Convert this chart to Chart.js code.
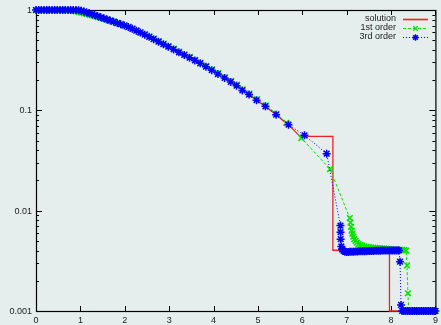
<!DOCTYPE html>
<html>
<head>
<meta charset="utf-8">
<script src="https://cdn.jsdelivr.net/npm/chart.js@4.4.1/dist/chart.umd.min.js"></script>
<style>
  html, body { margin: 0; padding: 0; background: #e5eded; }
  #wrap { width: 441px; height: 325px; }
</style>
</head>
<body>
<div id="wrap"><canvas id="shockChart" width="441" height="325"></canvas></div>
<script>
// values (log scale)
const solutionX = [0, 0.93, 1.2, 1.5, 1.8, 2.1, 2.4, 2.7, 3.0, 3.3, 3.6, 3.9, 4.2, 4.5, 4.8, 5.1, 5.4, 5.7, 5.95,
  6.69, 6.69, 7.965, 7.965, 9];
const solutionY = [1, 1, 0.91, 0.82, 0.75, 0.671, 0.582, 0.499, 0.427, 0.364, 0.310, 0.260, 0.216, 0.178, 0.1435, 0.1148, 0.0912, 0.0708, 0.055,
  0.055, 0.00403, 0.00403, 0.001, 0.001];

const firstX = [0, 0.06, 0.12, 0.18, 0.24, 0.30, 0.36, 0.42, 0.48, 0.54, 0.60,
  0.66, 0.72, 0.78, 0.84, 0.90, 0.96, 1.02, 1.08, 1.14,
  1.21, 1.27, 1.33, 1.40, 1.47, 1.54, 1.61, 1.68, 1.76, 1.84,
  1.92, 2.00, 2.09, 2.18, 2.27, 2.36, 2.46, 2.56, 2.66, 2.77,
  2.88, 2.99, 3.11, 3.23, 3.35, 3.47, 3.59, 3.71, 3.84, 3.97,
  4.11, 4.26, 4.40, 4.53, 4.66, 4.81, 4.98, 5.18, 5.42,
  5.64, 5.978, 6.625, 7.071,
  7.085, 7.10, 7.115, 7.13, 7.15, 7.17, 7.20, 7.23, 7.27, 7.31, 7.35, 7.40, 7.45, 7.50, 7.55,
  7.60, 7.65, 7.70, 7.75, 7.80, 7.85, 7.90, 7.95, 8.00, 8.05, 8.10, 8.15, 8.20, 8.25, 8.30, 8.34,
  8.36, 8.38, 8.40,
  8.44, 8.48, 8.52, 8.56, 8.60, 8.64, 8.68, 8.72, 8.76, 8.80, 8.84, 8.88, 8.92, 8.96, 9.0];
const firstY = [1, 1, 1, 1, 1, 1, 1, 1, 1, 1, 1,
  0.997, 0.993, 0.987, 0.978, 0.967, 0.954, 0.940, 0.925, 0.911,
  0.896, 0.882, 0.867, 0.849, 0.831, 0.813, 0.796, 0.782, 0.765, 0.745,
  0.725, 0.705, 0.682, 0.656, 0.629, 0.603, 0.575, 0.547, 0.519, 0.490,
  0.463, 0.437, 0.411, 0.385, 0.362, 0.340, 0.319, 0.299, 0.277, 0.256,
  0.235, 0.214, 0.196, 0.180, 0.162, 0.147, 0.129, 0.112, 0.0924,
  0.0749, 0.053, 0.026, 0.00844,
  0.0076, 0.0069, 0.0063, 0.0059, 0.0055, 0.0052, 0.0050, 0.0048, 0.00465, 0.00455, 0.00447, 0.0044, 0.00436, 0.00433, 0.0043,
  0.00428, 0.00426, 0.00424, 0.00422, 0.0042, 0.00418, 0.00416, 0.00415, 0.00413, 0.00412, 0.0041, 0.00409, 0.00408, 0.00406, 0.00405, 0.0040,
  0.00285, 0.0015, 0.001,
  0.001, 0.001, 0.001, 0.001, 0.001, 0.001, 0.001, 0.001, 0.001, 0.001, 0.001, 0.001, 0.001, 0.001, 0.001];

const thirdX = [0, 0.06, 0.12, 0.18, 0.24, 0.30, 0.36, 0.42, 0.48, 0.54, 0.60, 0.66, 0.72, 0.78, 0.84, 0.90,
  0.96, 1.02, 1.08, 1.14, 1.20, 1.26, 1.32, 1.39, 1.46, 1.53,
  1.60, 1.67, 1.75, 1.83, 1.91, 1.99, 2.08, 2.17, 2.26, 2.35,
  2.45, 2.55, 2.65, 2.76, 2.87, 2.98, 3.10, 3.22, 3.34, 3.46,
  3.58, 3.70, 3.83, 3.96, 4.10, 4.25, 4.39, 4.52, 4.65, 4.80,
  4.97, 5.17, 5.41, 5.69, 6.05, 6.55,
  6.86, 6.862, 6.865, 6.88,
  6.90, 6.93, 6.96,
  7.00, 7.04, 7.08, 7.12, 7.16, 7.20, 7.24, 7.28, 7.32, 7.36,
  7.40, 7.44, 7.48, 7.52, 7.56, 7.60, 7.64, 7.68, 7.72, 7.76,
  7.80, 7.84, 7.88, 7.92, 7.96, 8.00, 8.04, 8.08, 8.12, 8.16,
  8.18,
  8.203, 8.225,
  8.25, 8.29, 8.33, 8.37, 8.41, 8.45, 8.49, 8.53, 8.57, 8.61,
  8.65, 8.69, 8.73, 8.77, 8.81, 8.85, 8.89, 8.93, 8.97, 9.0];
const thirdY = [1, 1, 1, 1, 1, 1, 1, 1, 1, 1, 1, 1, 1, 1, 1, 1,
  0.995, 0.984, 0.966, 0.946, 0.927, 0.908, 0.889, 0.867, 0.845, 0.826,
  0.805, 0.785, 0.764, 0.741, 0.721, 0.700, 0.676, 0.649, 0.622, 0.596,
  0.568, 0.540, 0.512, 0.483, 0.456, 0.431, 0.405, 0.379, 0.356, 0.335,
  0.314, 0.294, 0.272, 0.251, 0.230, 0.210, 0.192, 0.176, 0.158, 0.1435,
  0.126, 0.1096, 0.0906, 0.0719, 0.0564, 0.037,
  0.0071, 0.0061, 0.0052, 0.0044,
  0.0041, 0.00397, 0.0039,
  0.00388, 0.00388, 0.00389, 0.0039, 0.0039, 0.00391, 0.00392, 0.00393, 0.00393, 0.00394,
  0.00395, 0.00395, 0.00396, 0.00396, 0.00397, 0.00397, 0.00398, 0.00398, 0.00399, 0.00399,
  0.004, 0.004, 0.004, 0.00401, 0.00401, 0.00402, 0.00402, 0.00402, 0.00402, 0.00402,
  0.00401,
  0.0031, 0.00115,
  0.001, 0.001, 0.001, 0.001, 0.001, 0.001, 0.001, 0.001, 0.001, 0.001,
  0.001, 0.001, 0.001, 0.001, 0.001, 0.001, 0.001, 0.001, 0.001, 0.001];

const xTicks = [0, 1, 2, 3, 4, 5, 6, 7, 8, 9];
const yTicks = [1, 0.1, 0.01, 0.001];
const yTickLabels = ['1', '0.1', '0.01', '0.001'];
const seriesNames = ['solution', '1st order', '3rd order'];

const BG = '#e5eded';
const RED = 'rgb(238,32,32)';
const GREEN = 'rgb(0,230,0)';
const BLUE = 'rgb(0,0,245)';
const FONT = '9px "Liberation Sans", Arial, sans-serif';

function toPoints(xs, ys) {
    const n = Math.min(xs.length, ys.length);
    const pts = [];
    for (let i = 0; i < n; i++) pts.push({ x: xs[i], y: ys[i] });
    return pts;
}

function drawMarker(ctx, style, x, y, r) {
    ctx.beginPath();
    if (style === 'star') {
        ctx.moveTo(x - r, y); ctx.lineTo(x + r, y);
        ctx.moveTo(x, y - r); ctx.lineTo(x, y + r);
    }
    const d = r * 0.7071;
    ctx.moveTo(x - d, y - d); ctx.lineTo(x + d, y + d);
    ctx.moveTo(x - d, y + d); ctx.lineTo(x + d, y - d);
    ctx.stroke();
}

// gnuplot-ish frame: inward ticks on all four sides, labels, legend
const framePlugin = {
    id: 'frame',
    beforeDraw(chart) {
        const ctx = chart.ctx;
        ctx.save();
        ctx.fillStyle = BG;
        ctx.fillRect(0, 0, chart.width, chart.height);
        ctx.restore();
    },
    beforeDatasetsDraw(chart) {
        const ctx = chart.ctx;
        const a = chart.chartArea;
        const xs = chart.scales.x, ys = chart.scales.y;
        ctx.save();
        ctx.strokeStyle = '#000';
        ctx.lineWidth = 1;

        ctx.beginPath();
        // y ticks, major and minor
        yTicks.forEach(v => {
            const py = Math.round(ys.getPixelForValue(v)) + 0.5;
            ctx.moveTo(a.left, py); ctx.lineTo(a.left + 6, py);
            ctx.moveTo(a.right, py); ctx.lineTo(a.right - 6, py);
        });
        [0.001, 0.01, 0.1].forEach(d => {
            for (let m = 2; m <= 9; m++) {
                const py = Math.round(ys.getPixelForValue(d * m)) + 0.5;
                ctx.moveTo(a.left, py); ctx.lineTo(a.left + 3, py);
                ctx.moveTo(a.right, py); ctx.lineTo(a.right - 3, py);
            }
        });
        xTicks.forEach(v => {
            const px = Math.round(xs.getPixelForValue(v)) + 0.5;
            ctx.moveTo(px, a.bottom); ctx.lineTo(px, a.bottom - 5);
            ctx.moveTo(px, a.top); ctx.lineTo(px, a.top + 5);
        });
        ctx.stroke();

        ctx.lineWidth = 1.2;
        ctx.strokeRect(a.left + 0.5, a.top + 0.5, a.right - a.left, a.bottom - a.top);

        ctx.fillStyle = '#222';
        ctx.font = FONT;
        ctx.textBaseline = 'middle';
        ctx.textAlign = 'right';
        yTicks.forEach((v, i) => {
            ctx.fillText(yTickLabels[i], a.left - 4, ys.getPixelForValue(v) + 0.5);
        });
        ctx.textAlign = 'center';
        xTicks.forEach(v => {
            ctx.fillText(String(v), xs.getPixelForValue(v), a.bottom + 9.5);
        });
        ctx.restore();
    },
    afterDraw(chart) {
        const ctx = chart.ctx;
        const rows = [
            { color: RED, dash: [], marker: null },
            { color: GREEN, dash: [3, 2], marker: 'crossRot' },
            { color: BLUE, dash: [1, 2], marker: 'star' }
        ];
        ctx.save();
        ctx.font = FONT;
        ctx.textAlign = 'right';
        ctx.textBaseline = 'middle';
        rows.forEach((r, i) => {
            const y = 19 + i * 8.8;
            ctx.fillStyle = '#222';
            ctx.fillText(seriesNames[i], 396, y);
            ctx.strokeStyle = r.color;
            ctx.lineWidth = i === 0 ? 1.6 : 1;
            ctx.setLineDash(r.dash);
            ctx.beginPath();
            ctx.moveTo(403, Math.round(y) + 0.5);
            ctx.lineTo(428, Math.round(y) + 0.5);
            ctx.stroke();
            ctx.setLineDash([]);
            if (r.marker) {
                ctx.lineWidth = 1.4;
                drawMarker(ctx, r.marker, 415.5, Math.round(y) + 0.5, 3.2);
            }
        });
        ctx.restore();
    }
};

document.addEventListener('DOMContentLoaded', () => {
    const ctx = document.getElementById('shockChart').getContext('2d');

    const data = {
        datasets: [
            {
                label: seriesNames[0],
                data: toPoints(solutionX, solutionY),
                borderColor: RED,
                borderWidth: 1.3,
                pointRadius: 0,
                order: 3,
                clip: 2
            },
            {
                label: seriesNames[1],
                data: toPoints(firstX, firstY),
                borderColor: GREEN,
                borderWidth: 1,
                borderDash: [3, 2],
                pointStyle: 'crossRot',
                pointRadius: 4,
                pointBorderWidth: 1.6,
                pointBorderColor: GREEN,
                pointBackgroundColor: GREEN,
                order: 2,
                clip: 5
            },
            {
                label: seriesNames[2],
                data: toPoints(thirdX, thirdY),
                borderColor: BLUE,
                borderWidth: 1,
                borderDash: [1, 2],
                pointStyle: 'star',
                pointRadius: 4,
                pointBorderWidth: 1.5,
                pointBorderColor: BLUE,
                pointBackgroundColor: BLUE,
                order: 1,
                clip: 5
            }
        ]
    };

    new Chart(ctx, {
        type: 'line',
        data: data,
        options: {
            responsive: false,
            animation: false,
            events: [],
            layout: { padding: { left: 36, top: 10, right: 2, bottom: 14 } },
            elements: { line: { tension: 0 } },
            scales: {
                x: { type: 'linear', min: 0, max: 9, display: false },
                y: { type: 'logarithmic', min: 0.001, max: 1, display: false }
            },
            plugins: {
                legend: { display: false },
                tooltip: { enabled: false }
            }
        },
        plugins: [framePlugin]
    });
});
</script>
</body>
</html>
